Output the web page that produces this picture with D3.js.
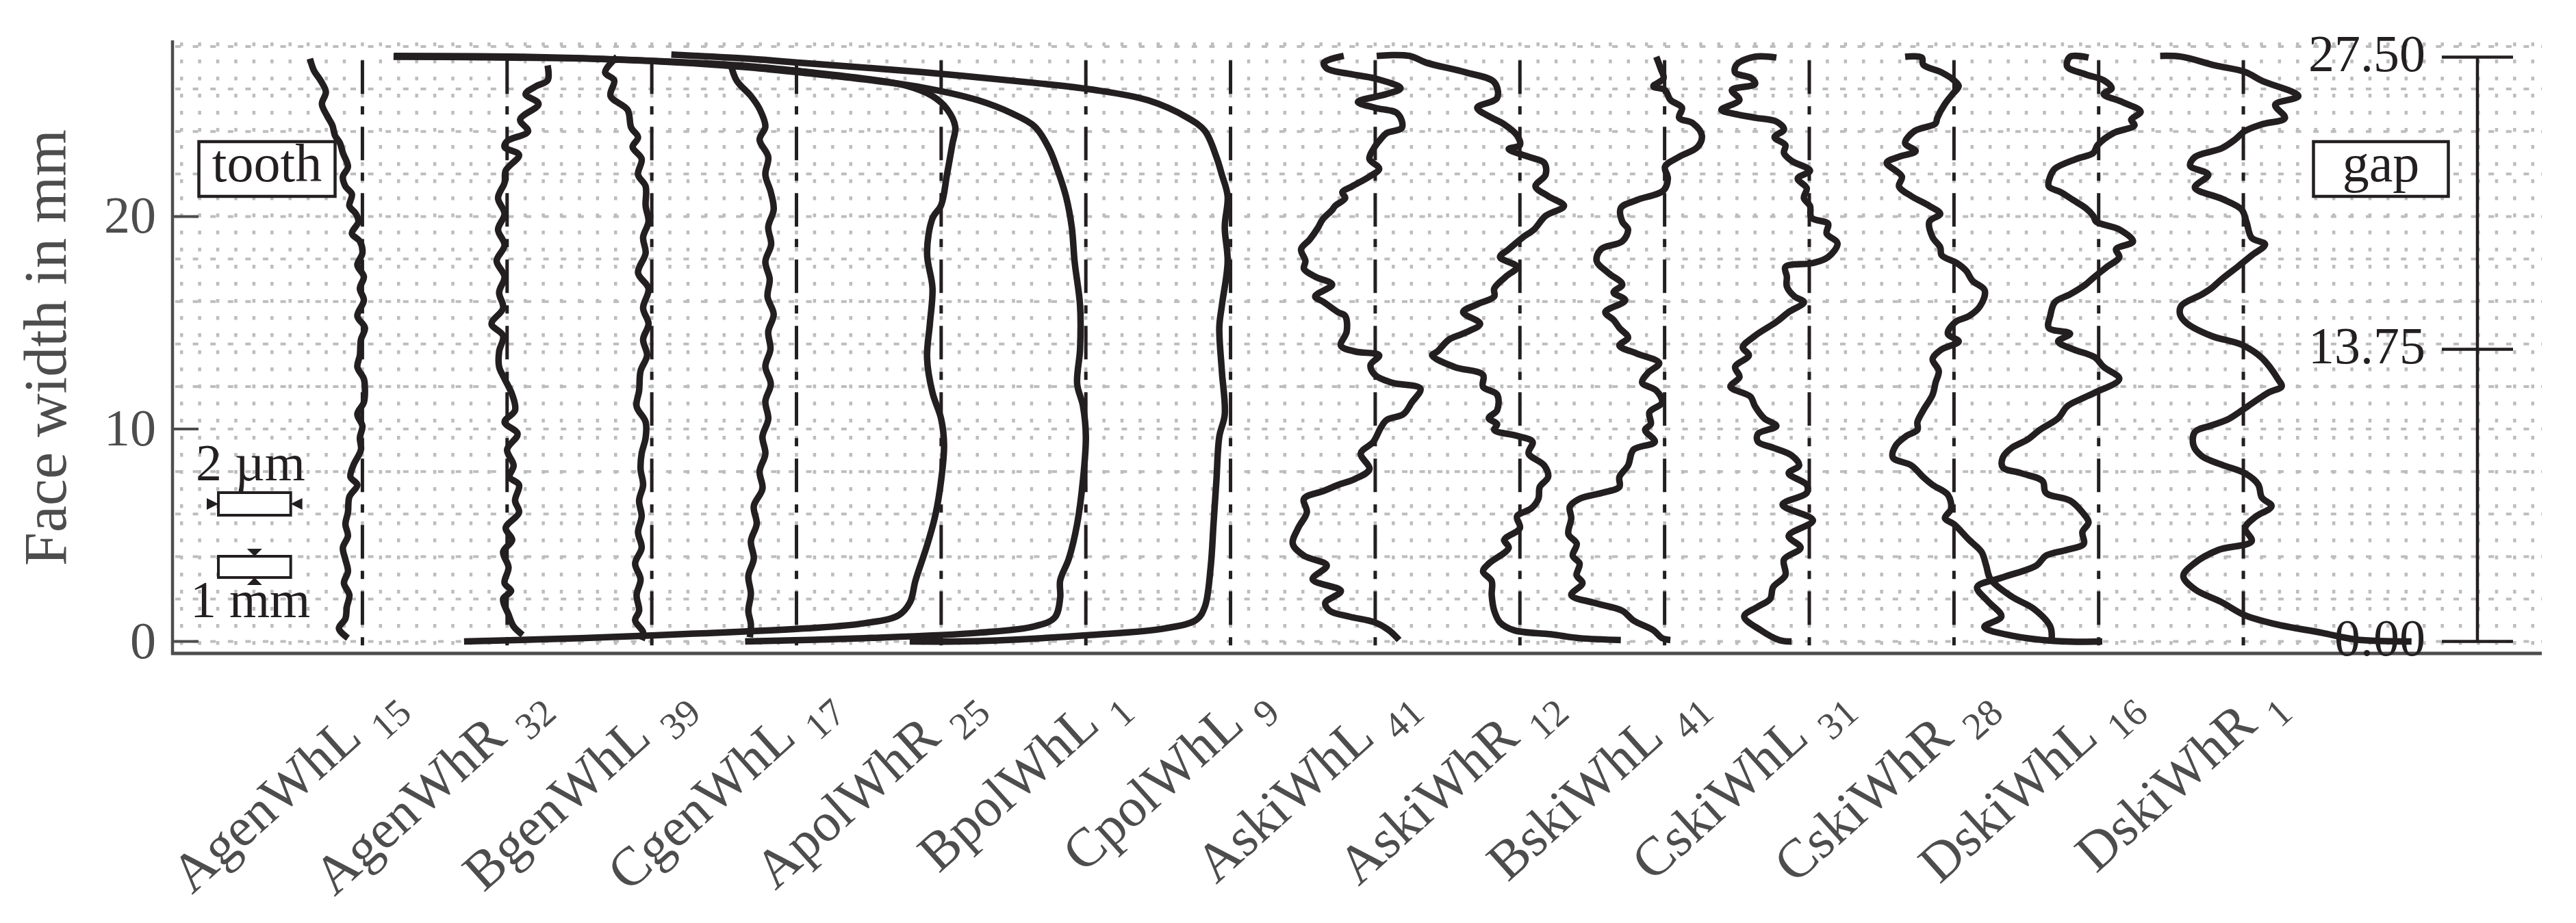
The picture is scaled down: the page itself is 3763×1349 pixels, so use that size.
<!DOCTYPE html>
<html>
<head>
<meta charset="utf-8">
<script src="https://cdn.jsdelivr.net/npm/d3@7/dist/d3.min.js"></script>
<style>
  html, body { margin: 0; padding: 0; background: #fff; }
  svg { display: block; font-family: "Liberation Serif", "DejaVu Serif", serif; }
</style>
</head>
<body>
<svg></svg>
<script>
// profile names and their subscripts, one per reference line
var profileNames = ["AgenWhL", "AgenWhR", "BgenWhL", "CgenWhL", "ApolWhR", "BpolWhL", "CpolWhL",
                    "AskiWhL", "AskiWhR", "BskiWhL", "CskiWhL", "CskiWhR", "DskiWhL", "DskiWhR"];
var profileSubs = ["15", "32", "39", "17", "25", "1", "9", "41", "12", "41", "31", "28", "16", "1"];
var yTicks = [0, 10, 20];
var gapTicks = [0, 13.75, 27.5];

// each profile: [deviation from its reference line in µm, face width in mm]
var agenWhL15 = [[-1.45,27.43],[-1.34,26.87],[-1.16,26.41],[-1.01,25.86],[-1.12,25.30],[-0.98,24.75],[-0.83,24.29],[-0.76,23.82],[-0.62,23.45],[-0.54,22.99],[-0.40,22.34],[-0.54,21.88],[-0.47,21.42],[-0.29,21.05],[-0.36,20.50],[-0.18,20.13],[-0.11,19.76],[-0.29,19.20],[-0.07,18.83],[0.00,18.28],[-0.14,17.72],[0.04,17.17],[-0.07,16.61],[0.04,16.06],[-0.14,15.32],[0.07,14.76],[-0.04,14.21],[-0.07,13.47],[-0.14,12.92],[0.04,12.36],[0.07,11.81],[0.04,11.25],[-0.14,10.70],[0.00,10.14],[-0.07,9.59],[-0.04,9.03],[-0.25,8.29],[-0.33,7.74],[-0.14,7.37],[-0.36,6.81],[-0.40,6.08],[-0.47,5.52],[-0.40,4.97],[-0.54,4.41],[-0.47,3.86],[-0.40,3.30],[-0.51,2.75],[-0.36,2.19],[-0.43,1.64],[-0.47,1.08],[-0.65,0.62],[-0.40,0.16]];
var agenWhR32 = [[1.12,27.11],[1.12,26.41],[0.80,26.13],[0.51,25.76],[0.87,25.30],[0.36,24.56],[0.58,24.01],[0.00,23.55],[-0.07,23.27],[0.33,22.90],[-0.04,22.16],[-0.07,21.60],[-0.25,20.87],[-0.07,20.13],[-0.25,19.39],[-0.07,18.65],[-0.29,17.91],[-0.07,17.17],[-0.22,16.43],[-0.11,15.69],[-0.43,14.95],[-0.11,14.39],[-0.22,13.65],[-0.22,12.92],[-0.07,12.36],[0.14,11.62],[0.22,10.88],[-0.07,10.33],[0.29,9.77],[0.00,9.03],[0.18,8.29],[0.07,7.74],[0.33,7.37],[0.22,6.63],[0.33,6.08],[-0.04,5.34],[0.14,4.78],[-0.11,4.22],[0.04,3.49],[-0.07,2.75],[0.11,2.38],[-0.11,2.01],[0.04,1.27],[0.18,0.71],[0.43,0.31]];
var bgenWhL39 = [[-0.96,27.52],[-1.29,26.78],[-1.04,26.41],[-1.14,25.67],[-0.67,25.02],[-0.57,24.19],[-0.38,23.73],[-0.53,23.27],[-0.28,22.71],[-0.38,21.97],[-0.17,21.42],[-0.17,20.50],[-0.09,19.76],[-0.24,19.02],[-0.17,18.28],[-0.38,17.35],[-0.09,16.61],[-0.24,15.69],[-0.09,14.95],[-0.24,14.21],[-0.13,13.47],[-0.31,12.73],[-0.35,11.81],[-0.42,11.07],[-0.17,10.33],[-0.17,9.59],[-0.28,8.85],[-0.31,8.11],[-0.24,7.37],[-0.35,6.63],[-0.28,5.89],[-0.38,5.15],[-0.28,4.41],[-0.46,3.67],[-0.31,2.93],[-0.42,2.19],[-0.35,1.45],[-0.46,0.99],[-0.24,0.44],[-0.28,0.07]];
var cgenWhL17 = [[-1.81,27.11],[-1.65,26.39],[-1.26,25.67],[-1.02,25.06],[-0.86,24.23],[-1.02,23.62],[-0.78,22.80],[-0.86,21.97],[-0.71,21.15],[-0.63,20.33],[-0.78,19.51],[-0.70,18.69],[-0.86,17.87],[-0.74,17.05],[-0.80,16.22],[-0.63,15.40],[-0.78,14.58],[-0.72,13.76],[-0.86,12.94],[-0.71,12.12],[-0.86,11.30],[-0.78,10.47],[-0.94,9.65],[-0.86,8.83],[-1.02,8.01],[-0.94,7.19],[-1.18,6.37],[-1.10,5.54],[-1.26,4.72],[-1.18,3.90],[-1.33,3.08],[-1.26,2.26],[-1.33,1.44],[-1.26,0.82],[-1.29,0.20]];
var apolWhR25 = [[-13.19,0.00],[-9.97,0.16],[-6.83,0.37],[-3.69,0.62],[-2.12,0.86],[-1.18,1.23],[-0.86,1.85],[-0.71,2.87],[-0.39,4.52],[-0.16,5.95],[0.00,7.60],[0.08,9.24],[0.00,10.47],[-0.24,11.71],[-0.39,13.35],[-0.31,14.99],[-0.24,16.63],[-0.39,18.28],[-0.24,19.92],[0.00,20.54],[0.16,21.97],[0.31,23.41],[0.39,24.23],[0.16,25.06],[-0.24,25.67],[-1.02,26.18],[-2.12,26.49],[-3.69,26.80],[-5.26,27.07],[-8.40,27.36],[-11.54,27.52],[-15.13,27.56]];
var bpolWhL1 = [[-9.42,0.00],[-6.12,0.16],[-2.98,0.41],[-1.41,0.72],[-0.86,1.13],[-0.71,2.05],[-0.71,2.87],[-0.47,3.90],[-0.24,5.54],[-0.08,7.60],[0.00,9.65],[-0.08,11.09],[-0.24,12.12],[-0.16,13.76],[-0.16,15.81],[-0.31,17.87],[-0.39,19.51],[-0.55,20.95],[-0.78,22.18],[-1.02,23.21],[-1.41,24.23],[-2.04,24.85],[-2.98,25.47],[-4.55,26.08],[-6.12,26.45],[-7.69,26.74],[-9.26,27.01],[-10.83,27.21],[-13.19,27.40],[-17.11,27.50],[-19.14,27.52]];
var cpolWhL9 = [[-8.87,0.00],[-6.99,0.02],[-3.85,0.31],[-1.81,0.62],[-0.94,1.03],[-0.71,1.64],[-0.55,3.49],[-0.47,5.54],[-0.39,7.60],[-0.31,9.65],[-0.16,10.68],[-0.24,12.73],[-0.31,14.79],[-0.24,15.81],[-0.08,17.87],[-0.16,19.51],[-0.08,20.95],[-0.24,21.97],[-0.39,22.80],[-0.71,24.03],[-1.18,24.64],[-2.28,25.47],[-3.85,25.98],[-5.42,26.29],[-8.56,26.80],[-11.70,27.21],[-13.27,27.42],[-15.46,27.62]];
var askiWhL41 = [[-0.87,27.56],[-1.42,27.24],[-1.34,26.97],[-0.64,26.69],[-0.01,26.50],[0.70,26.04],[0.31,25.76],[-0.48,25.39],[-0.01,25.12],[0.62,24.84],[0.74,24.19],[0.31,23.92],[0.15,23.64],[-0.05,23.18],[-0.16,22.71],[0.11,22.25],[-0.16,21.88],[-0.64,21.42],[-0.91,21.14],[-0.83,20.87],[-1.11,20.50],[-1.19,20.31],[-1.46,19.85],[-1.58,19.48],[-1.81,18.92],[-2.05,18.46],[-1.93,17.91],[-1.97,17.54],[-1.66,17.17],[-1.19,16.80],[-1.66,16.24],[-1.42,15.97],[-1.03,15.50],[-0.83,15.32],[-0.79,14.58],[-0.95,13.93],[-0.56,13.65],[0.11,13.47],[-0.13,13.01],[-0.01,12.55],[0.46,12.18],[1.25,11.90],[1.01,11.25],[0.78,10.70],[0.31,10.42],[0.15,10.05],[-0.05,9.40],[-0.40,8.85],[-0.16,8.11],[-0.56,7.65],[-1.03,7.37],[-1.42,7.09],[-1.97,6.72],[-1.89,6.08],[-2.13,5.34],[-2.28,4.60],[-1.97,4.04],[-1.34,3.58],[-1.73,2.93],[-0.95,2.38],[-1.38,1.82],[-1.26,1.45],[-0.71,1.17],[-0.01,0.90],[0.38,0.53],[0.66,0.07]];
var askiWhR12 = [[-3.96,27.56],[-3.06,27.56],[-2.59,27.24],[-1.49,26.78],[-0.71,26.32],[-0.63,25.58],[-1.18,25.12],[-0.78,24.65],[-0.47,24.38],[-0.08,23.82],[0.00,23.36],[-0.31,23.18],[0.24,22.81],[0.67,22.53],[0.71,21.97],[0.43,21.42],[0.78,20.96],[1.22,20.50],[0.71,20.03],[0.39,19.39],[0.08,19.02],[-0.31,18.46],[-0.55,18.09],[-0.08,17.63],[-0.39,17.17],[-0.71,16.61],[-0.71,16.24],[-1.18,15.87],[-1.57,15.50],[-1.10,14.95],[-1.57,14.49],[-1.96,14.21],[-2.28,13.65],[-2.43,13.47],[-1.81,12.92],[-1.02,12.55],[-1.02,11.99],[-0.63,11.62],[-0.63,10.88],[-0.86,10.51],[-0.63,10.23],[-0.71,9.96],[-0.08,9.68],[0.35,9.40],[0.24,8.85],[0.67,8.29],[0.78,7.74],[0.55,7.28],[0.51,6.72],[0.31,6.26],[-0.08,5.89],[0.00,5.34],[-0.43,4.78],[-0.31,4.41],[-0.86,3.67],[-1.02,3.30],[-0.78,2.84],[-0.78,2.19],[-0.71,1.45],[-0.55,0.90],[-0.16,0.53],[0.86,0.34],[1.65,0.16],[2.79,0.07]];
var bskiWhL41 = [[-0.23,27.52],[-0.11,26.97],[-0.03,26.50],[-0.31,26.13],[0.01,25.95],[0.16,25.49],[0.48,25.12],[0.40,24.65],[0.79,24.38],[1.03,23.82],[0.91,23.27],[0.40,22.81],[0.01,22.34],[0.09,21.79],[-0.03,21.23],[-0.78,20.77],[-1.21,20.40],[-1.17,19.76],[-1.01,19.39],[-1.17,18.83],[-1.76,18.46],[-1.88,17.91],[-1.56,17.35],[-1.17,16.80],[-1.41,16.43],[-1.09,16.06],[-1.64,15.50],[-1.41,15.13],[-1.25,14.76],[-1.01,14.30],[-1.25,13.93],[-0.78,13.56],[-0.15,13.10],[-0.46,12.64],[-0.62,12.18],[-0.23,11.81],[-0.07,11.25],[-0.42,10.79],[-0.38,10.24],[-0.54,9.96],[-0.27,9.40],[-0.86,9.03],[-1.01,8.29],[-1.25,7.74],[-1.25,7.28],[-1.72,7.00],[-2.35,6.72],[-2.62,6.35],[-2.58,5.80],[-2.66,5.06],[-2.43,4.60],[-2.54,4.04],[-2.35,3.67],[-2.43,3.12],[-2.27,2.75],[-2.58,2.19],[-1.95,1.82],[-1.17,1.45],[-0.86,0.99],[-0.31,0.53],[-0.07,0.16],[0.16,0.07]];
var cskiWhL31 = [[-0.91,27.48],[-1.51,27.52],[-2.01,27.15],[-2.05,26.78],[-1.59,26.50],[-1.50,26.23],[-2.14,25.95],[-1.93,25.49],[-2.43,25.02],[-2.10,24.84],[-1.50,24.65],[-0.91,24.47],[-0.70,24.10],[-0.96,23.73],[-0.66,23.36],[-0.70,22.99],[-0.49,22.62],[0.02,22.16],[-0.32,21.79],[-0.07,21.33],[-0.15,20.87],[0.02,20.50],[0.06,19.94],[0.52,19.66],[0.48,19.20],[0.78,18.74],[0.52,18.09],[0.10,17.81],[-0.66,17.63],[-0.62,17.17],[-0.62,16.71],[-0.41,16.24],[-0.15,15.97],[-0.57,15.50],[-0.91,15.04],[-1.50,14.39],[-1.84,13.84],[-1.67,13.47],[-2.05,12.92],[-1.93,12.45],[-2.18,11.99],[-1.63,11.53],[-1.50,11.07],[-1.25,10.51],[-0.91,10.14],[-1.42,9.77],[-1.42,9.40],[-1.00,9.12],[-0.49,8.76],[-0.28,8.29],[-0.57,7.92],[-0.07,7.37],[-0.07,7.00],[-0.74,6.44],[0.10,5.70],[-0.57,4.97],[-0.24,4.41],[-0.70,3.86],[-0.66,3.12],[-1.00,2.56],[-1.08,2.01],[-1.42,1.64],[-1.80,1.18],[-1.34,0.53],[-0.83,0.07],[-0.49,0.00]];
var cskiWhR28 = [[-1.35,27.52],[-0.89,27.48],[-0.85,27.15],[-0.34,26.78],[0.00,26.41],[0.13,26.13],[-0.04,25.76],[-0.25,25.30],[-0.46,24.65],[-0.51,24.38],[-1.10,24.01],[-1.35,23.45],[-1.06,23.08],[-1.52,22.81],[-1.86,22.53],[-1.44,21.88],[-1.52,21.42],[-1.18,20.96],[-0.68,20.50],[-0.38,20.13],[-0.68,19.76],[-0.59,19.02],[-0.38,18.55],[-0.34,18.18],[0.08,17.81],[0.34,17.44],[0.51,16.98],[0.85,16.52],[0.72,15.78],[0.42,15.32],[0.04,15.04],[-0.17,14.49],[0.13,14.12],[-0.34,13.75],[-0.59,13.29],[-0.42,12.73],[-0.51,12.18],[-0.59,11.62],[-0.85,10.88],[-1.01,10.33],[-1.01,9.96],[-1.31,9.68],[-1.61,9.22],[-1.69,8.66],[-1.18,8.29],[-0.85,7.74],[-0.59,7.37],[-0.17,6.91],[-0.08,6.26],[-0.25,5.80],[0.00,5.52],[0.42,4.78],[0.76,4.22],[0.89,3.58],[1.01,2.93],[1.61,2.10],[2.20,1.55],[2.66,0.71],[2.70,0.07]];
var dskiWhL16 = [[-0.28,27.48],[-0.79,27.52],[-0.87,27.06],[-0.36,26.69],[0.14,26.41],[0.36,26.04],[0.14,25.76],[0.65,25.39],[1.16,24.93],[0.90,24.56],[0.99,24.29],[0.40,23.92],[-0.03,23.36],[-0.15,22.99],[-0.62,22.71],[-1.21,22.25],[-1.34,21.88],[-1.38,21.42],[-1.04,21.14],[-0.70,20.77],[-0.36,20.40],[-0.15,20.03],[-0.07,19.76],[0.57,19.39],[0.95,18.83],[0.48,18.46],[0.57,18.09],[0.23,17.63],[-0.11,17.17],[-0.36,16.80],[-0.79,16.34],[-1.21,15.97],[-1.34,15.32],[-1.38,14.76],[-0.79,14.49],[-1.12,14.12],[-0.70,13.75],[-0.11,13.38],[0.14,12.92],[0.57,12.36],[-0.11,11.71],[-0.45,11.44],[-0.87,11.07],[-1.12,10.51],[-1.63,9.96],[-1.97,9.50],[-2.39,9.13],[-2.65,8.66],[-2.65,8.20],[-2.14,7.92],[-1.55,7.55],[-1.46,7.00],[-0.79,6.63],[-0.45,6.08],[-0.28,5.61],[-0.45,5.15],[-0.41,4.60],[-0.87,4.32],[-1.46,4.04],[-1.72,3.58],[-2.65,3.02],[-3.36,2.56],[-3.07,1.91],[-2.69,1.18],[-3.16,0.68],[-2.31,0.25],[-1.04,0.01],[0.10,0.00]];
var dskiWhR1 = [[-2.30,27.56],[-1.71,27.52],[-0.78,27.11],[0.05,26.80],[0.51,26.39],[1.52,25.67],[0.88,25.26],[1.15,24.64],[0.51,24.34],[0.05,24.03],[-0.23,23.62],[-0.60,23.21],[-1.34,22.80],[-1.47,22.39],[-0.97,21.97],[-1.34,21.36],[-0.60,20.84],[-0.05,20.33],[0.09,19.72],[0.23,19.00],[0.60,18.69],[0.23,18.17],[-0.14,17.66],[-0.60,17.05],[-0.88,16.63],[-1.15,16.33],[-1.71,15.81],[-1.75,15.40],[-1.57,14.99],[-0.88,14.38],[-0.05,13.97],[0.51,13.35],[0.97,12.32],[1.06,12.01],[0.69,11.71],[0.14,11.09],[-0.41,10.47],[-0.88,10.17],[-1.34,9.86],[-1.38,9.24],[-1.15,8.73],[-0.60,8.32],[0.05,7.91],[0.41,7.39],[0.51,6.78],[0.78,6.37],[0.32,5.85],[0.05,5.34],[0.23,4.72],[-0.69,4.31],[-1.34,3.70],[-1.66,3.08],[-1.34,2.46],[-0.60,1.85],[0.05,1.23],[0.88,0.82],[2.17,0.41],[3.09,0.10],[4.65,0.00]];

var profiles = [agenWhL15, agenWhR32, bgenWhL39, cgenWhL17, apolWhR25, bpolWhL1, cpolWhL9,
                askiWhL41, askiWhR12, bskiWhL41, cskiWhL31, cskiWhR28, dskiWhL16, dskiWhR1];

var width = 3763, height = 1349;
var svg = d3.select("svg").attr("width", width).attr("height", height);

var ink = "#231f20", axisGrey = "#4d4d4d", gridGrey = "#bdbdbd";
var columnStep = 4; // µm between two reference lines

var x = d3.scaleLinear().domain([-5.25, 60.25]).range([252, 3713]);
var y = d3.scaleLinear().domain([-0.56, 28.29]).range([955, 59]);

// dotted background grid
var grid = svg.append("g");
grid.selectAll("line.vgrid")
    .data(d3.range(-5, 60.01, 0.5))
    .join("line")
    .attr("class", "vgrid")
    .attr("x1", d => x(d)).attr("x2", d => x(d))
    .attr("y1", 62).attr("y2", y.range()[0])
    .attr("stroke", gridGrey)
    .attr("stroke-width", 4.5)
    .attr("stroke-dasharray", "5.5 19.5");
grid.selectAll("line.hgrid")
    .data(d3.range(0, 28.01, 2))
    .join("line")
    .attr("class", "hgrid")
    .attr("x1", x.range()[0] + 4).attr("x2", x.range()[1])
    .attr("y1", d => y(d)).attr("y2", d => y(d))
    .attr("stroke", gridGrey)
    .attr("stroke-width", 4)
    .attr("stroke-dasharray", "8 17.6");

// reference lines of each profile
svg.append("g").selectAll("line")
    .data(profiles)
    .join("line")
    .attr("x1", (d, i) => x(i * columnStep)).attr("x2", (d, i) => x(i * columnStep))
    .attr("y1", y(27.35)).attr("y2", y.range()[0])
    .attr("stroke", ink)
    .attr("stroke-width", 5)
    .attr("stroke-dasharray", "49 18 12 18");

// axes
svg.append("line")
    .attr("x1", x.range()[0]).attr("x2", x.range()[0])
    .attr("y1", y.range()[1]).attr("y2", y.range()[0] + 2)
    .attr("stroke", axisGrey).attr("stroke-width", 4.5);
svg.append("line")
    .attr("x1", x.range()[0] - 2).attr("x2", x.range()[1])
    .attr("y1", y.range()[0]).attr("y2", y.range()[0])
    .attr("stroke", axisGrey).attr("stroke-width", 5);

var yAxis = svg.append("g");
yAxis.selectAll("line")
    .data(yTicks)
    .join("line")
    .attr("x1", x.range()[0]).attr("x2", x.range()[0] + 38)
    .attr("y1", d => y(d)).attr("y2", d => y(d))
    .attr("stroke", axisGrey).attr("stroke-width", 4);
yAxis.selectAll("text")
    .data(yTicks)
    .join("text")
    .attr("x", 228)
    .attr("y", d => y(d) + 24)
    .attr("text-anchor", "end")
    .attr("font-size", 76)
    .attr("fill", axisGrey)
    .text(d => d);

svg.append("text")
    .attr("transform", "translate(96,508) rotate(-90)")
    .attr("text-anchor", "middle")
    .attr("font-size", 88)
    .attr("fill", axisGrey)
    .text("Face width in mm");

// profile labels, rotated
var labels = svg.append("g").selectAll("text")
    .data(profileNames)
    .join("text")
    .attr("transform", (d, i) => "translate(" + (x(i * columnStep) + 60) + ",1030) rotate(-42)")
    .attr("text-anchor", "end")
    .attr("font-size", 80)
    .attr("fill", axisGrey);
labels.append("tspan").text(d => d);
labels.append("tspan")
    .attr("dx", 22).attr("dy", 22)
    .attr("font-size", 56)
    .text((d, i) => profileSubs[i]);

// gap scale on the right
var gapAxis = svg.append("g");
gapAxis.append("line")
    .attr("x1", 3619).attr("x2", 3619)
    .attr("y1", y(0)).attr("y2", y(27.5))
    .attr("stroke", ink).attr("stroke-width", 4.5);
gapAxis.selectAll("line.tick")
    .data(gapTicks)
    .join("line")
    .attr("class", "tick")
    .attr("x1", 3567).attr("x2", 3671)
    .attr("y1", d => y(d)).attr("y2", d => y(d))
    .attr("stroke", ink).attr("stroke-width", 4.5);
gapAxis.selectAll("text")
    .data(gapTicks)
    .join("text")
    .attr("x", 3543)
    .attr("y", d => y(d) + 20)
    .attr("text-anchor", "end")
    .attr("font-size", 76)
    .attr("fill", ink)
    .text(d => d3.format(".2f")(d));

// boxed side notes
function boxLabel(cx, cy, w, h, txt) {
    svg.append("rect")
        .attr("x", cx - w / 2).attr("y", cy - h / 2)
        .attr("width", w).attr("height", h)
        .attr("fill", "#fff").attr("stroke", ink).attr("stroke-width", 4.5);
    svg.append("text")
        .attr("x", cx).attr("y", cy + 18)
        .attr("text-anchor", "middle")
        .attr("font-size", 78)
        .attr("fill", ink)
        .text(txt);
}
boxLabel(390, 247, 199, 80, "tooth");
boxLabel(3478, 247, 197, 80, "gap");

// scale legend: 2 µm horizontally, 1 mm vertically
var legend = svg.append("g");
var barW = x(2) - x(0), barH = y(0) - y(1), barX = 319;
legend.append("rect")
    .attr("x", barX).attr("y", 720).attr("width", barW).attr("height", 33)
    .attr("fill", "#fff").attr("stroke", ink).attr("stroke-width", 4);
legend.append("path")
    .attr("d", "M" + (barX - 17) + ",728 L" + barX + ",736.5 L" + (barX - 17) + ",745Z"
        + "M" + (barX + barW + 17) + ",728 L" + (barX + barW) + ",736.5 L" + (barX + barW + 17) + ",745Z")
    .attr("fill", ink);
legend.append("rect")
    .attr("x", barX).attr("y", 813).attr("width", barW).attr("height", barH)
    .attr("fill", "#fff").attr("stroke", ink).attr("stroke-width", 4);
var mid = barX + barW / 2;
legend.append("path")
    .attr("d", "M" + (mid - 11) + ",802 L" + mid + ",813 L" + (mid + 11) + ",802Z"
        + "M" + (mid - 11) + "," + (813 + barH + 11) + " L" + mid + "," + (813 + barH) + " L" + (mid + 11) + "," + (813 + barH + 11) + "Z")
    .attr("fill", ink);
legend.append("text")
    .attr("x", 286).attr("y", 702)
    .attr("font-size", 76).attr("fill", ink)
    .text("2 µm");
legend.append("text")
    .attr("x", 278).attr("y", 902)
    .attr("font-size", 76).attr("fill", ink)
    .text("1 mm");

// the measured profiles
var line = d3.line()
    .curve(d3.curveCatmullRom.alpha(0.5));

svg.append("g").selectAll("path")
    .data(profiles)
    .join("path")
    .attr("d", (d, i) => line(d.map(p => [x(i * columnStep + p[0]), y(p[1])])))
    .attr("fill", "none")
    .attr("stroke", ink)
    .attr("stroke-width", 9.5)
    .attr("stroke-linejoin", "round")
    .attr("stroke-linecap", "butt");
</script>
</body>
</html>
